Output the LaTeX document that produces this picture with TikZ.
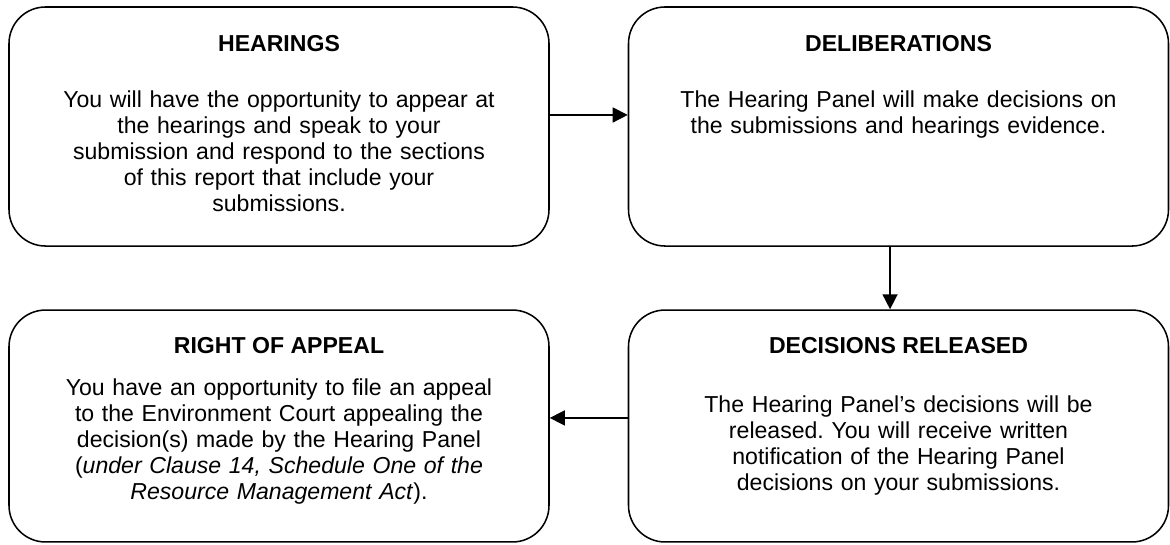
\documentclass[tikz,border=0pt]{standalone}
\usepackage{fontspec}
\setmainfont{Liberation Sans}
\frenchspacing
\usetikzlibrary{arrows.meta}
\tikzset{
    stagebox/.style={draw, line width=0.8pt, rounded corners=19pt, minimum width=280.8pt, inner sep=0pt},
    stagetitle/.style={anchor=base, font=\fontsize{12}{13.6}\selectfont\bfseries},
    stagetext/.style={anchor=base, text width=270pt, align=center, font=\fontsize{12}{13.6}\selectfont},
    flow/.style={-{Triangle[length=7.8pt,width=7.8pt]}, line width=0.8pt},
}
\begin{document}
\begin{tikzpicture}[x=0.52pt,y=-0.52pt]
        \useasboundingbox (0,0) rectangle (1170,544);
        %draw the four stage boxes
        \node[stagebox, minimum height=124.3pt] (hearings) at (279,126.5) {};
        \node[stagebox, minimum height=124.3pt] (deliberations) at (898.5,126.5) {};
        \node[stagebox, minimum height=120.6pt] (appeal) at (279,426) {};
        \node[stagebox, minimum height=120.6pt] (released) at (898.5,426) {};
        %label the stages
        \node[stagetitle] (hearingstitle) at (279,51) {HEARINGS};
        \node[stagetitle] (deliberationstitle) at (898.5,51) {DELIBERATIONS};
        \node[stagetitle] (appealtitle) at (279,353) {RIGHT OF APPEAL};
        \node[stagetitle] (releasedtitle) at (898.5,353) {DECISIONS RELEASED};
        %text of each stage
        \node[stagetext] (hearingstext) at (279,107) {You will have the opportunity to appear at\\
            the hearings and speak to your\\
            submission and respond to the sections\\
            of this report that include your\\
            submissions.};
        \node[stagetext] (deliberationstext) at (898.5,107) {The Hearing Panel will make decisions on\\
            the submissions and hearings evidence.};
        \node[stagetext] (appealtext) at (279,395) {You have an opportunity to file an appeal\\
            to the Environment Court appealing the\\
            decision(s) made by the Hearing Panel\\
            (\textit{under Clause 14, Schedule One of the}\\
            \textit{Resource Management Act}).};
        \node[stagetext] (releasedtext) at (898.5,412) {The Hearing Panel’s decisions will be\\
            released. You will receive written\\
            notification of the Hearing Panel\\
            decisions on your submissions.};
        %draw arrows between the stages
        \draw[flow] ([yshift=6pt]hearings.east) -- ([yshift=6pt]deliberations.west);
        \draw[flow] ([xshift=-4.4pt]deliberations.south) -- ([xshift=-4.4pt]released.north);
        \draw[flow] ([yshift=4.2pt]released.west) -- ([yshift=4.2pt]appeal.east);
    \end{tikzpicture}
\end{document}
